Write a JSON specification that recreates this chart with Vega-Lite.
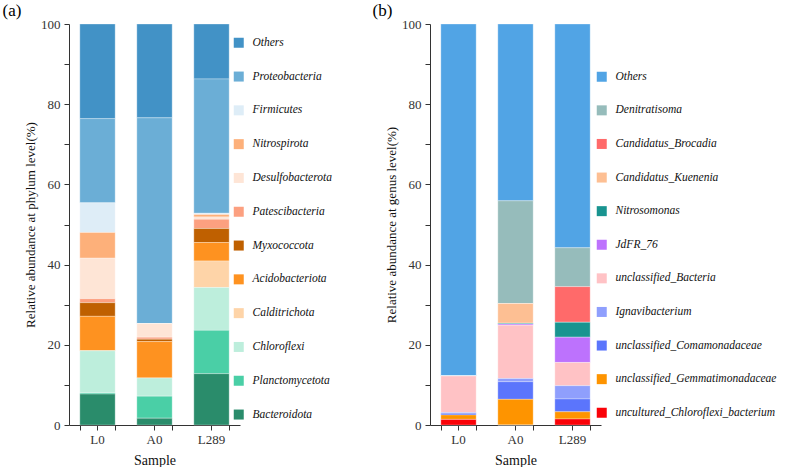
{
  "$schema": "https://vega.github.io/schema/vega-lite/v6.json",
  "padding": {"left": 2, "top": 2, "right": 0, "bottom": 0},
  "spacing": 190,
  "bounds": "flush",
  "datasets": {
    "phylum": [
      {"sample": "L0", "taxon": "Others", "value": 23.6},
      {"sample": "L0", "taxon": "Proteobacteria", "value": 21.0},
      {"sample": "L0", "taxon": "Firmicutes", "value": 7.4},
      {"sample": "L0", "taxon": "Nitrospirota", "value": 6.4},
      {"sample": "L0", "taxon": "Desulfobacterota", "value": 10.1},
      {"sample": "L0", "taxon": "Patescibacteria", "value": 1.0},
      {"sample": "L0", "taxon": "Myxococcota", "value": 3.4},
      {"sample": "L0", "taxon": "Acidobacteriota", "value": 8.6},
      {"sample": "L0", "taxon": "Calditrichota", "value": 0.0},
      {"sample": "L0", "taxon": "Chloroflexi", "value": 10.5},
      {"sample": "L0", "taxon": "Planctomycetota", "value": 0.3},
      {"sample": "L0", "taxon": "Bacteroidota", "value": 7.7},
      {"sample": "A0", "taxon": "Others", "value": 23.4},
      {"sample": "A0", "taxon": "Proteobacteria", "value": 51.3},
      {"sample": "A0", "taxon": "Firmicutes", "value": 0.0},
      {"sample": "A0", "taxon": "Nitrospirota", "value": 0.0},
      {"sample": "A0", "taxon": "Desulfobacterota", "value": 3.4},
      {"sample": "A0", "taxon": "Patescibacteria", "value": 0.5},
      {"sample": "A0", "taxon": "Myxococcota", "value": 0.6},
      {"sample": "A0", "taxon": "Acidobacteriota", "value": 9.1},
      {"sample": "A0", "taxon": "Calditrichota", "value": 0.0},
      {"sample": "A0", "taxon": "Chloroflexi", "value": 4.5},
      {"sample": "A0", "taxon": "Planctomycetota", "value": 5.5},
      {"sample": "A0", "taxon": "Bacteroidota", "value": 1.7},
      {"sample": "L289", "taxon": "Others", "value": 13.7},
      {"sample": "L289", "taxon": "Proteobacteria", "value": 33.5},
      {"sample": "L289", "taxon": "Firmicutes", "value": 0.3},
      {"sample": "L289", "taxon": "Nitrospirota", "value": 0.6},
      {"sample": "L289", "taxon": "Desulfobacterota", "value": 0.6},
      {"sample": "L289", "taxon": "Patescibacteria", "value": 2.3},
      {"sample": "L289", "taxon": "Myxococcota", "value": 3.5},
      {"sample": "L289", "taxon": "Acidobacteriota", "value": 4.6},
      {"sample": "L289", "taxon": "Calditrichota", "value": 6.6},
      {"sample": "L289", "taxon": "Chloroflexi", "value": 10.7},
      {"sample": "L289", "taxon": "Planctomycetota", "value": 10.8},
      {"sample": "L289", "taxon": "Bacteroidota", "value": 12.8}
    ],
    "genus": [
      {"sample": "L0", "taxon": "Others", "value": 87.8},
      {"sample": "L0", "taxon": "Denitratisoma", "value": 0.0},
      {"sample": "L0", "taxon": "Candidatus_Brocadia", "value": 0.0},
      {"sample": "L0", "taxon": "Candidatus_Kuenenia", "value": 0.0},
      {"sample": "L0", "taxon": "Nitrosomonas", "value": 0.0},
      {"sample": "L0", "taxon": "JdFR_76", "value": 0.0},
      {"sample": "L0", "taxon": "unclassified_Bacteria", "value": 9.1},
      {"sample": "L0", "taxon": "Ignavibacterium", "value": 0.2},
      {"sample": "L0", "taxon": "unclassified_Comamonadaceae", "value": 0.4},
      {"sample": "L0", "taxon": "unclassified_Gemmatimonadaceae", "value": 1.1},
      {"sample": "L0", "taxon": "uncultured_Chloroflexi_bacterium", "value": 1.4},
      {"sample": "A0", "taxon": "Others", "value": 44.1},
      {"sample": "A0", "taxon": "Denitratisoma", "value": 25.6},
      {"sample": "A0", "taxon": "Candidatus_Brocadia", "value": 0.0},
      {"sample": "A0", "taxon": "Candidatus_Kuenenia", "value": 4.9},
      {"sample": "A0", "taxon": "Nitrosomonas", "value": 0.2},
      {"sample": "A0", "taxon": "JdFR_76", "value": 0.3},
      {"sample": "A0", "taxon": "unclassified_Bacteria", "value": 13.3},
      {"sample": "A0", "taxon": "Ignavibacterium", "value": 0.8},
      {"sample": "A0", "taxon": "unclassified_Comamonadaceae", "value": 4.4},
      {"sample": "A0", "taxon": "unclassified_Gemmatimonadaceae", "value": 6.4},
      {"sample": "A0", "taxon": "uncultured_Chloroflexi_bacterium", "value": 0.0},
      {"sample": "L289", "taxon": "Others", "value": 55.8},
      {"sample": "L289", "taxon": "Denitratisoma", "value": 9.7},
      {"sample": "L289", "taxon": "Candidatus_Brocadia", "value": 8.9},
      {"sample": "L289", "taxon": "Candidatus_Kuenenia", "value": 0.0},
      {"sample": "L289", "taxon": "Nitrosomonas", "value": 3.7},
      {"sample": "L289", "taxon": "JdFR_76", "value": 6.3},
      {"sample": "L289", "taxon": "unclassified_Bacteria", "value": 5.8},
      {"sample": "L289", "taxon": "Ignavibacterium", "value": 3.3},
      {"sample": "L289", "taxon": "unclassified_Comamonadaceae", "value": 3.2},
      {"sample": "L289", "taxon": "unclassified_Gemmatimonadaceae", "value": 1.8},
      {"sample": "L289", "taxon": "uncultured_Chloroflexi_bacterium", "value": 1.5}
    ]
  },
  "hconcat": [
    {
      "width": 171,
      "height": 401,
      "title": {"text": "(a)", "anchor": "start", "dx": -22, "fontSize": 17, "fontWeight": "normal", "font": "Liberation Serif", "color": "#000", "offset": -2},
      "data": {"name": "phylum"},
      "transform": [
        {"calculate": "indexof(['Others','Proteobacteria','Firmicutes','Nitrospirota','Desulfobacterota','Patescibacteria','Myxococcota','Acidobacteriota','Calditrichota','Chloroflexi','Planctomycetota','Bacteroidota'], datum.taxon)", "as": "ord"}
      ],
      "layer": [
        {
          "mark": {"type": "bar", "stroke": "#ffffff", "strokeWidth": 0.5, "strokeOpacity": 0.6},
          "encoding": {
            "x": {"field": "sample", "type": "nominal", "sort": ["L0", "A0", "L289"], "scale": {"paddingInner": 0.38, "paddingOuter": 0.19}, "axis": {"orient": "bottom", "labelAngle": 0, "title": "Sample", "titleFontSize": 14, "tickSize": 5, "labelPadding": 3, "titlePadding": 7}},
            "y": {"field": "value", "type": "quantitative", "stack": "zero", "scale": {"domain": [0, 100], "nice": false}, "axis": {"values": [0, 10, 20, 30, 40, 50, 60, 70, 80, 90, 100], "labelExpr": "datum.value % 20 === 0 ? datum.label : ''", "title": "Relative abundance at phylum level(%)", "tickSize": 5, "labelPadding": 4, "titlePadding": 3}},
            "order": {"field": "ord", "type": "quantitative", "sort": "descending"},
            "color": {
              "field": "taxon", "type": "nominal",
              "scale": {
                "domain": ["Others", "Proteobacteria", "Firmicutes", "Nitrospirota", "Desulfobacterota", "Patescibacteria", "Myxococcota", "Acidobacteriota", "Calditrichota", "Chloroflexi", "Planctomycetota", "Bacteroidota"],
                "range": ["#4292c6", "#6baed6", "#deedf7", "#fdb07a", "#fee5d6", "#fca080", "#bf6000", "#fe9220", "#fed4a8", "#bdeedc", "#4acfa6", "#2a8c6b"]
              },
              "legend": {"orient": "none", "legendX": 164, "legendY": 13, "title": null, "rowPadding": 20.8}
            }
          }
        },
        {
          "mark": {"type": "bar", "opacity": 0},
          "encoding": {
            "x": {"field": "sample", "type": "nominal", "sort": ["L0", "A0", "L289"], "axis": {"orient": "bottom", "tickBand": "extent", "labels": false, "title": null, "domain": false, "tickSize": 5}}
          }
        }
      ],
      "resolve": {"axis": {"x": "independent"}}
    },
    {
      "width": 171,
      "height": 401,
      "title": {"text": "(b)", "anchor": "start", "dx": -13, "fontSize": 17, "fontWeight": "normal", "font": "Liberation Serif", "color": "#000", "offset": -2},
      "data": {"name": "genus"},
      "transform": [
        {"calculate": "indexof(['Others','Denitratisoma','Candidatus_Brocadia','Candidatus_Kuenenia','Nitrosomonas','JdFR_76','unclassified_Bacteria','Ignavibacterium','unclassified_Comamonadaceae','unclassified_Gemmatimonadaceae','uncultured_Chloroflexi_bacterium'], datum.taxon)", "as": "ord"}
      ],
      "layer": [
        {
          "mark": {"type": "bar", "stroke": "#ffffff", "strokeWidth": 0.5, "strokeOpacity": 0.6},
          "encoding": {
            "x": {"field": "sample", "type": "nominal", "sort": ["L0", "A0", "L289"], "scale": {"paddingInner": 0.38, "paddingOuter": 0.19}, "axis": {"orient": "bottom", "labelAngle": 0, "title": "Sample", "titleFontSize": 14, "tickSize": 5, "labelPadding": 3, "titlePadding": 7}},
            "y": {"field": "value", "type": "quantitative", "stack": "zero", "scale": {"domain": [0, 100], "nice": false}, "axis": {"values": [0, 10, 20, 30, 40, 50, 60, 70, 80, 90, 100], "labelExpr": "datum.value % 20 === 0 ? datum.label : ''", "title": "Relative abundance at genus level(%)", "tickSize": 5, "labelPadding": 4, "titlePadding": 3}},
            "order": {"field": "ord", "type": "quantitative", "sort": "descending"},
            "color": {
              "field": "taxon", "type": "nominal",
              "scale": {
                "domain": ["Others", "Denitratisoma", "Candidatus_Brocadia", "Candidatus_Kuenenia", "Nitrosomonas", "JdFR_76", "unclassified_Bacteria", "Ignavibacterium", "unclassified_Comamonadaceae", "unclassified_Gemmatimonadaceae", "uncultured_Chloroflexi_bacterium"],
                "range": ["#51a4e5", "#96bcbb", "#ff6a6a", "#fdbf93", "#199490", "#bd72fd", "#ffc2c5", "#8f9ffd", "#5b75fc", "#fe9400", "#fa0208"]
              },
              "legend": {"orient": "none", "legendX": 166, "legendY": 47, "title": null, "rowPadding": 20.6}
            }
          }
        },
        {
          "mark": {"type": "bar", "opacity": 0},
          "encoding": {
            "x": {"field": "sample", "type": "nominal", "sort": ["L0", "A0", "L289"], "axis": {"orient": "bottom", "tickBand": "extent", "labels": false, "title": null, "domain": false, "tickSize": 5}}
          }
        }
      ],
      "resolve": {"axis": {"x": "independent"}}
    }
  ],
  "resolve": {"scale": {"color": "independent", "y": "independent", "x": "independent"}, "legend": {"color": "independent"}},
  "config": {
    "font": "Liberation Serif",
    "view": {"stroke": null},
    "axis": {"domainColor": "#333333", "tickColor": "#333333", "labelColor": "#333333", "titleColor": "#111111", "labelFont": "Liberation Serif", "titleFont": "Liberation Serif", "titleFontWeight": "normal", "grid": false, "labelFontSize": 13, "titleFontSize": 13},
    "legend": {"symbolType": "square", "symbolSize": 100, "symbolStrokeWidth": 0, "labelFont": "Liberation Serif", "labelFontStyle": "italic", "labelFontSize": 11.5, "labelColor": "#111111", "labelOffset": 8, "labelLimit": 300}
  }
}
